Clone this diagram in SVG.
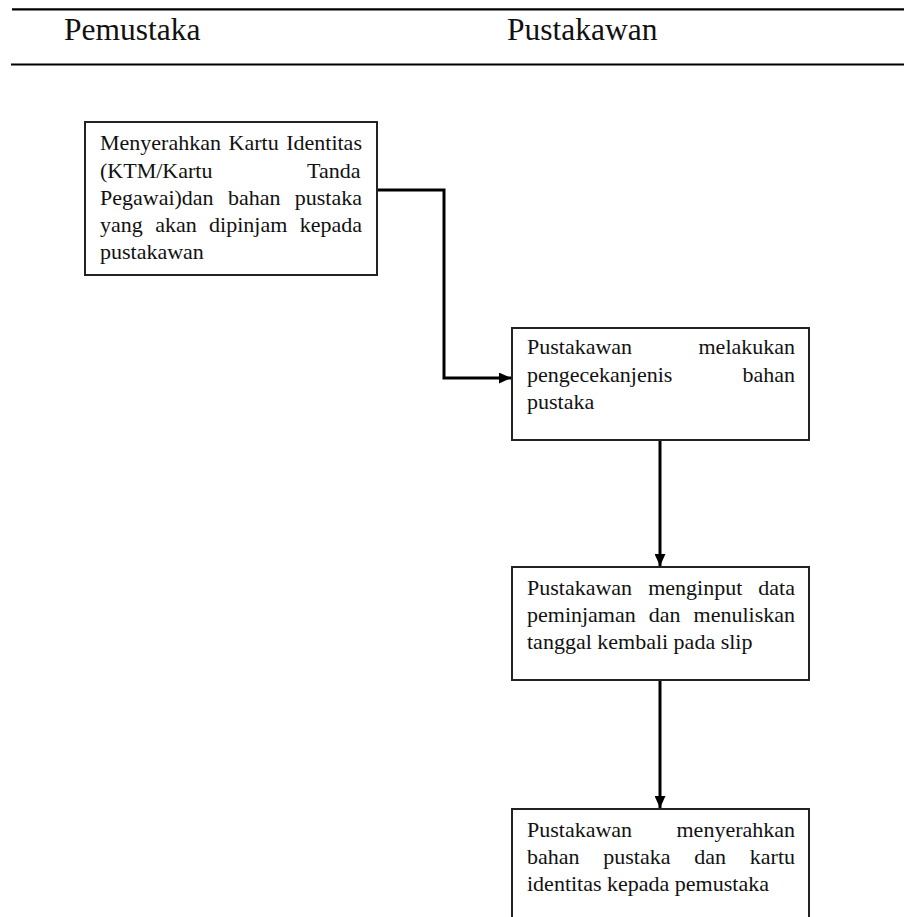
<svg xmlns="http://www.w3.org/2000/svg" width="904" height="917" viewBox="0 0 904 917">
<style>
.hdr{font-family:"Liberation Serif","Times New Roman",serif;font-size:31.5px;fill:#111}
.t{font-family:"Liberation Serif","Times New Roman",serif;font-size:22px;fill:#111}
.box{fill:#fff;stroke:#222;stroke-width:2}
.rule{stroke:#000;stroke-width:2.2}
.conn{fill:none;stroke:#000;stroke-width:3}
</style>
<defs>
<marker id="arr" viewBox="0 0 12 11" refX="12" refY="5.5" markerWidth="12" markerHeight="11" markerUnits="userSpaceOnUse" orient="auto">
<path d="M0,0 L12,5.5 L0,11 Z" fill="#000"/>
</marker>
</defs>
<rect width="904" height="917" fill="#fff"/>
<g id="header">
<line class="rule" x1="12" y1="9.3" x2="904" y2="9.3"/>
<line class="rule" x1="11" y1="64.5" x2="904" y2="64.5"/>
<text class="hdr" x="64" y="40">Pemustaka</text>
<text class="hdr" x="507" y="40">Pustakawan</text>
</g>
<g id="connectors">
<path class="conn" d="M377,190 H444 V378 H511" marker-end="url(#arr)"/>
<path class="conn" d="M660,440 V566" marker-end="url(#arr)"/>
<path class="conn" d="M660,680 V808" marker-end="url(#arr)"/>
</g>
<g id="node1">
<rect class="box" x="85" y="122" width="292" height="153"/>
<text class="t" y="150"><tspan x="100">Menyerahkan</tspan><tspan x="228.6">Kartu</tspan><tspan x="286.2">Identitas</tspan></text>
<text class="t" y="177.5"><tspan x="100">(KTM/Kartu</tspan><tspan x="307">Tanda</tspan></text>
<text class="t" y="205"><tspan x="100">Pegawai)dan</tspan><tspan x="227.9">bahan</tspan><tspan x="294.8">pustaka</tspan></text>
<text class="t" y="232"><tspan x="100">yang</tspan><tspan x="155.2">akan</tspan><tspan x="209.1">dipinjam</tspan><tspan x="299.7">kepada</tspan></text>
<text class="t" y="259"><tspan x="100">pustakawan</tspan></text>
</g>
<g id="node2">
<rect class="box" x="512" y="328" width="297" height="112"/>
<text class="t" y="354"><tspan x="527">Pustakawan</tspan><tspan x="698.5">melakukan</tspan></text>
<text class="t" y="381.5"><tspan x="527">pengecekanjenis</tspan><tspan x="742.5">bahan</tspan></text>
<text class="t" y="408.5"><tspan x="527">pustaka</tspan></text>
</g>
<g id="node3">
<rect class="box" x="512" y="567" width="297" height="113"/>
<text class="t" y="595"><tspan x="527">Pustakawan</tspan><tspan x="648.2">menginput</tspan><tspan x="758.3">data</tspan></text>
<text class="t" y="622"><tspan x="527">peminjaman</tspan><tspan x="648.8">dan</tspan><tspan x="693.6">menuliskan</tspan></text>
<text class="t" y="649"><tspan x="527">tanggal kembali pada slip</tspan></text>
</g>
<g id="node4">
<rect class="box" x="512" y="809" width="297" height="130"/>
<text class="t" y="837"><tspan x="527">Pustakawan</tspan><tspan x="676.5">menyerahkan</tspan></text>
<text class="t" y="864"><tspan x="527">bahan</tspan><tspan x="603.3">pustaka</tspan><tspan x="694.3">dan</tspan><tspan x="749.8">kartu</tspan></text>
<text class="t" y="890.5"><tspan x="527">identitas kepada pemustaka</tspan></text>
</g>
</svg>
